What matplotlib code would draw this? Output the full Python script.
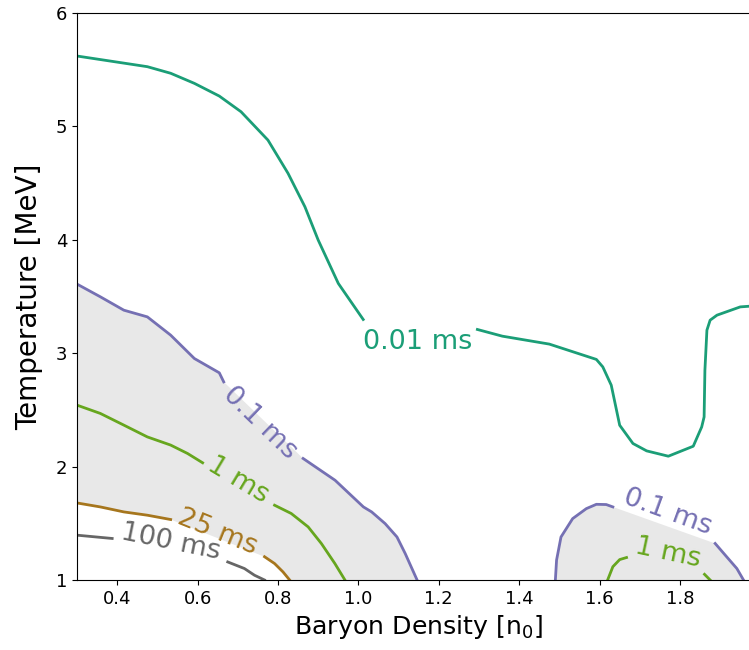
import numpy as np
import matplotlib
matplotlib.use('Agg')
import matplotlib.pyplot as plt

# contour lines (x: baryon density [n0], y: temperature [MeV])
# 0.01 ms
c001_a_x = [0.300, 0.475, 0.533, 0.592, 0.654, 0.708, 0.775, 0.825, 0.867, 0.900, 0.950, 1.012]
c001_a_y = [5.618, 5.524, 5.466, 5.377, 5.265, 5.127, 4.877, 4.584, 4.289, 3.996, 3.614, 3.296]
c001_b_x = [1.296, 1.358, 1.475, 1.592, 1.608, 1.629, 1.650, 1.683, 1.717, 1.771, 1.833, 1.854,
            1.860, 1.862, 1.867, 1.875, 1.892, 1.950, 2.000]
c001_b_y = [3.208, 3.149, 3.079, 2.944, 2.878, 2.717, 2.364, 2.203, 2.138, 2.091, 2.179, 2.349,
            2.437, 2.849, 3.202, 3.290, 3.334, 3.407, 3.420]

# 0.1 ms, left region
c01_a_x = [0.300, 0.358, 0.4165, 0.475, 0.533, 0.592, 0.654, 0.665]
c01_a_y = [3.608, 3.496, 3.378, 3.319, 3.158, 2.952, 2.826, 2.746]
c01_b_x = [0.8625, 0.942, 1.0125, 1.033, 1.0665, 1.096, 1.1165, 1.146]
c01_b_y = [2.071, 1.879, 1.644, 1.600, 1.497, 1.379, 1.233, 1.000]
# 0.1 ms, right region
c01_c_x = [1.490, 1.493, 1.504, 1.533, 1.567, 1.592, 1.6165, 1.633]
c01_c_y = [1.000, 1.176, 1.379, 1.541, 1.629, 1.667, 1.665, 1.644]
c01_d_x = [1.8875, 1.9165, 1.9415, 1.958]
c01_d_y = [1.322, 1.203, 1.101, 1.000]

# 1 ms
c1_a_x = [0.300, 0.358, 0.4165, 0.475, 0.533, 0.575, 0.6125]
c1_a_y = [2.541, 2.468, 2.365, 2.261, 2.189, 2.115, 2.033]
c1_b_x = [0.7915, 0.833, 0.875, 0.908, 0.9415, 0.9665]
c1_b_y = [1.659, 1.586, 1.468, 1.321, 1.145, 1.000]
c1_c_x = [1.620, 1.633, 1.650, 1.667]
c1_c_y = [1.000, 1.117, 1.180, 1.198]
c1_d_x = [1.861, 1.875]
c1_d_y = [1.050, 1.000]

# 25 ms
c25_a_x = [0.300, 0.358, 0.4165, 0.475, 0.533]
c25_a_y = [1.679, 1.644, 1.600, 1.571, 1.533]
c25_b_x = [0.7665, 0.7915, 0.8125, 0.829]
c25_b_y = [1.205, 1.145, 1.071, 1.000]

# 100 ms
c100_a_x = [0.300, 0.3875]
c100_a_y = [1.395, 1.366]
c100_b_x = [0.675, 0.7165, 0.7415, 0.7665]
c100_b_y = [1.159, 1.101, 1.042, 1.000]

# contour labels: text, x, y, rotation
labels = ['0.01 ms', '0.1 ms', '0.1 ms', '1 ms', '1 ms', '25 ms', '100 ms']
label_x = [1.147, 0.756, 1.770, 0.700, 1.771, 0.650, 0.533]
label_y = [3.100, 2.384, 1.597, 1.880, 1.233, 1.424, 1.336]
label_rot = [0, -44, -20, -31, -12, -22, -11.5]

col001 = '#1b9e77'
col01 = '#7570b3'
col1 = '#66a61e'
col25 = '#a6761d'
col100 = '#666666'
label_cols = [col001, col01, col01, col1, col1, col25, col100]

fig = plt.figure(figsize=(7.49, 6.5), dpi=100)
# axes runs past the right edge of the figure, as in the original crop
ax = fig.add_axes([0.1028, 0.1077, 0.9124, 0.8728])

# shaded band between 0.1 ms and 25 ms
band_x = c01_a_x + c01_b_x + [0.829] + c25_b_x[::-1] + c25_a_x[::-1]
band_y = c01_a_y + c01_b_y + [1.0] + c25_b_y[::-1] + c25_a_y[::-1]
ax.fill(band_x, band_y, color='#e8e8e8', lw=0, zorder=0)
dome_x = c01_c_x + c01_d_x
dome_y = c01_c_y + c01_d_y
ax.fill(dome_x, dome_y, color='#e8e8e8', lw=0, zorder=0)

lw = 2
ax.plot(c001_a_x, c001_a_y, color=col001, lw=lw)
ax.plot(c001_b_x, c001_b_y, color=col001, lw=lw)
for xs, ys in [(c01_a_x, c01_a_y), (c01_b_x, c01_b_y), (c01_c_x, c01_c_y), (c01_d_x, c01_d_y)]:
    ax.plot(xs, ys, color=col01, lw=lw)
for xs, ys in [(c1_a_x, c1_a_y), (c1_b_x, c1_b_y), (c1_c_x, c1_c_y), (c1_d_x, c1_d_y)]:
    ax.plot(xs, ys, color=col1, lw=lw)
ax.plot(c25_a_x, c25_a_y, color=col25, lw=lw)
ax.plot(c25_b_x, c25_b_y, color=col25, lw=lw)
ax.plot(c100_a_x, c100_a_y, color=col100, lw=lw)
ax.plot(c100_b_x, c100_b_y, color=col100, lw=lw)

for t, x, y, r, c in zip(labels, label_x, label_y, label_rot, label_cols):
    ax.text(x, y, t, color=c, rotation=r, fontsize=19.5, ha='center', va='center',
            rotation_mode='anchor')

ax.set_xlim(0.3, 2.0)
ax.set_ylim(1, 6)
ax.set_xticks([0.4, 0.6, 0.8, 1.0, 1.2, 1.4, 1.6, 1.8])
ax.set_yticks([1, 2, 3, 4, 5, 6])
ax.tick_params(labelsize=13)
ax.set_xlabel('Baryon Density [n$_0$]', fontsize=18.2)
ax.set_ylabel('Temperature [MeV]', fontsize=20, labelpad=9)

fig.savefig('out.png', dpi=100)
